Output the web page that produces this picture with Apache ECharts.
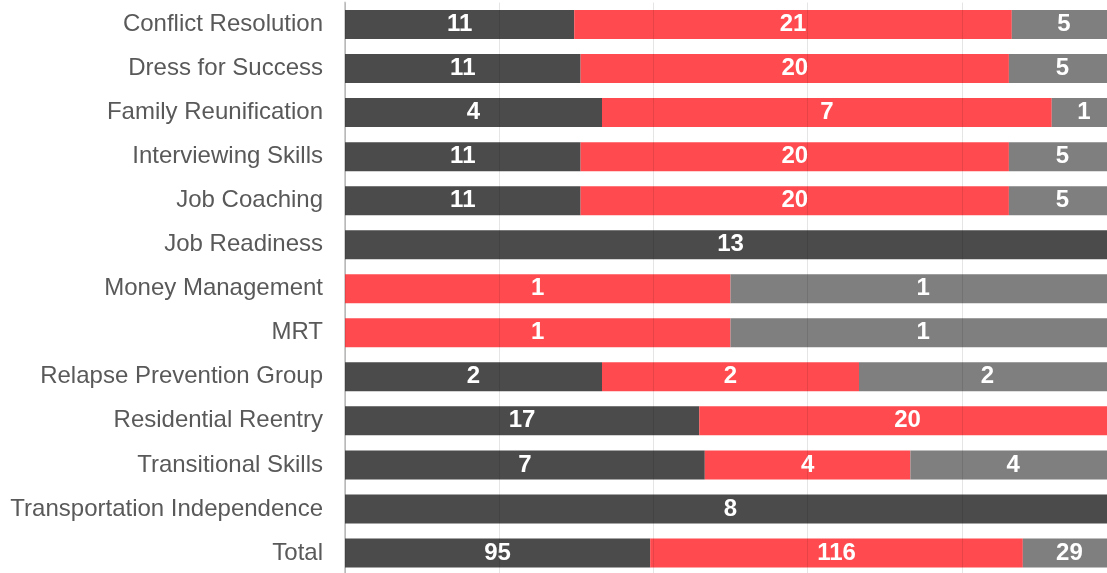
<!DOCTYPE html>
<html>
<head>
<meta charset="utf-8">
<script src="https://cdn.jsdelivr.net/npm/echarts@6/dist/echarts.min.js"></script>
<style>
  html, body { margin: 0; padding: 0; background: #fff; overflow: hidden; }
  /* a bit wider than the window: the plot runs past the right edge, as in the original */
  #main { width: 1116px; height: 573px; }
</style>
</head>
<body>
<div id="main"></div>
<script>
const categories = [
  'Conflict Resolution', 'Dress for Success', 'Family Reunification',
  'Interviewing Skills', 'Job Coaching', 'Job Readiness', 'Money Management',
  'MRT', 'Relapse Prevention Group', 'Residential Reentry',
  'Transitional Skills', 'Transportation Independence', 'Total'
];
const darkValues = [11, 11, 4, 11, 11, 13, 0, 0, 2, 17, 7, 8, 95];
const redValues  = [21, 20, 7, 20, 20, 0, 1, 1, 2, 20, 4, 0, 116];
const greyValues = [5, 5, 1, 5, 5, 0, 1, 1, 2, 0, 4, 0, 29];

const colors = ['#4b4b4b', '#ff4b4f', '#7f7f7f'];
const groups = [darkValues, redValues, greyValues];
const totals = categories.map((c, i) => darkValues[i] + redValues[i] + greyValues[i]);

const chart = echarts.init(document.getElementById('main'));

const series = groups.map((vals, k) => ({
  type: 'bar',
  stack: 'all',
  z: 2,
  barWidth: 29,
  itemStyle: { color: colors[k] },
  label: {
    show: true,
    position: 'inside',
    color: '#fff',
    fontFamily: '"Liberation Sans", Arial, sans-serif',
    fontWeight: 'bold',
    fontSize: 24,
    formatter: p => (vals[p.dataIndex] ? String(vals[p.dataIndex]) : '')
  },
  data: vals.map((v, i) => (v ? (v / totals[i]) * 100 : null))
}));

chart.setOption({
  animation: false,
  grid: {
    left: 345, right: 0, top: 2.5, height: 572.5,
    containLabel: false, outerBoundsMode: 'none'
  },
  xAxis: {
    type: 'value',
    min: 0,
    max: 100,
    interval: 20,
    z: 5,
    axisLabel: { show: false },
    axisLine: { show: false },
    axisTick: { show: false },
    splitLine: { show: true, lineStyle: { color: 'rgba(0,0,0,0.1)', width: 1 } }
  },
  yAxis: {
    type: 'category',
    inverse: true,
    data: categories,
    axisTick: { show: false },
    axisLine: { show: true, lineStyle: { color: '#cfcfcf', width: 2 } },
    axisLabel: {
      margin: 22,
      color: '#595959',
      fontSize: 24,
      fontFamily: '"Liberation Sans", Arial, sans-serif'
    }
  },
  series: series
});
</script>
</body>
</html>
